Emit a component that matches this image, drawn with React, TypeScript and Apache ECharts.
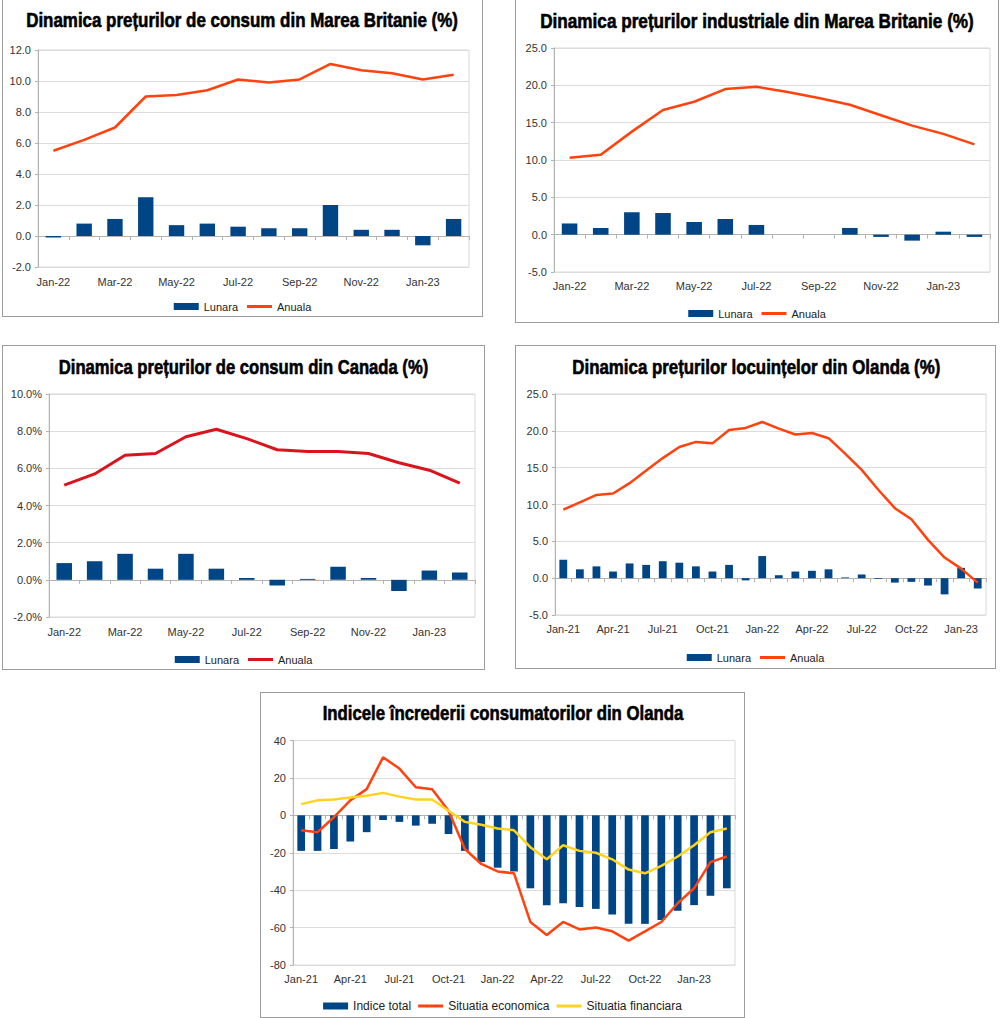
import React, { useEffect, useRef } from 'react';
import * as echarts from 'echarts';

// ---------- data ----------
const months22: string[] = ['Jan-22', 'Feb-22', 'Mar-22', 'Apr-22', 'May-22', 'Jun-22', 'Jul-22', 'Aug-22', 'Sep-22', 'Oct-22', 'Nov-22', 'Dec-22', 'Jan-23', 'Feb-23'];
const months21: string[] = ['Jan-21', 'Feb-21', 'Mar-21', 'Apr-21', 'May-21', 'Jun-21', 'Jul-21', 'Aug-21', 'Sep-21', 'Oct-21', 'Nov-21', 'Dec-21',
  'Jan-22', 'Feb-22', 'Mar-22', 'Apr-22', 'May-22', 'Jun-22', 'Jul-22', 'Aug-22', 'Sep-22', 'Oct-22', 'Nov-22', 'Dec-22', 'Jan-23', 'Feb-23'];
const months21m: string[] = [...months21, 'Mar-23'];

const ukCpiMonthly: number[] = [-0.1, 0.8, 1.1, 2.5, 0.7, 0.8, 0.6, 0.5, 0.5, 2.0, 0.4, 0.4, -0.6, 1.1];
const ukCpiAnnual: number[] = [5.5, 6.2, 7.0, 9.0, 9.1, 9.4, 10.1, 9.9, 10.1, 11.1, 10.7, 10.5, 10.1, 10.4];

const ukPpiMonthly: number[] = [1.5, 0.9, 3.0, 2.9, 1.7, 2.1, 1.3, 0, 0, 0.9, -0.3, -0.8, 0.4, -0.3];
const ukPpiAnnual: number[] = [10.3, 10.7, 13.8, 16.7, 17.8, 19.5, 19.8, 19.1, 18.3, 17.4, 16.0, 14.6, 13.5, 12.1];

const caCpiMonthly: number[] = [0.9, 1.0, 1.4, 0.6, 1.4, 0.6, 0.1, -0.3, 0.05, 0.7, 0.1, -0.6, 0.5, 0.4];
const caCpiAnnual: number[] = [5.1, 5.7, 6.7, 6.8, 7.7, 8.1, 7.6, 7.0, 6.9, 6.9, 6.8, 6.3, 5.9, 5.2];

const nlHouseMonthly: number[] = [2.5, 1.2, 1.6, 0.9, 2.0, 1.8, 2.3, 2.1, 1.6, 0.9, 1.8, -0.3, 3.0, 0.4, 0.9, 1.0, 1.2, 0.1, 0.5, -0.1, -0.6, -0.5, -1.0, -2.2, 1.4, -1.4];
const nlHouseAnnual: number[] = [9.3, 10.3, 11.3, 11.5, 12.9, 14.6, 16.3, 17.8, 18.5, 18.3, 20.1, 20.4, 21.2, 20.3, 19.5, 19.7, 19.0, 16.9, 14.7, 12.0, 9.5, 8.0, 5.2, 2.8, 1.3, -0.6];

const nlConfTotal: number[] = [-19, -19, -18, -14, -9, -2.5, -3.5, -5.5, -4.5, -10, -19, -25, -28, -30, -39, -48, -47, -49, -50, -53, -58, -58, -56, -51, -48, -43, -39];
const nlConfEconomic: number[] = [-8, -9, -1, 8, 14, 31, 25, 15, 14, 2.5, -18, -26, -30, -31, -57, -64, -57, -61, -60, -62, -67, -62, -57, -47, -39, -25, -22];
const nlConfFinancial: number[] = [6, 8, 8.5, 9.5, 10.5, 12, 10, 8.5, 8.5, 2.5, -3.5, -5, -7, -8, -17, -23.5, -16, -19, -20, -23.5, -29, -31, -27, -22, -16, -9, -7];

// ---------- style ----------
const BLUE = '#004586';
const ORANGE = '#ff420e';
const YELLOW = '#ffd320';
const RED = '#d9141c';
const LABEL_FONT = '"Liberation Sans", Arial, sans-serif';
const TITLE_FAMILY = '"Liberation Sans Narrow", "Liberation Sans", Arial, sans-serif';
const TITLE_SIZE = 20;
const LINE_ICON = 'path://M0,0L25,0L25,3L0,3Z';

type LineDef = { name: string; data: number[]; color: string; width: number };
interface Spec {
  key: string;
  box: { x: number; y: number; w: number; h: number };
  plot: { l: number; r: number; t: number; b: number };
  title: string;
  titleCx: number;
  titleCapTop: number;
  titleWidth: number;
  legendY: number;
  legendFont: number;
  legendGap: number;
  cats: string[];
  labelInterval: number;
  labelMargin: number;
  yMin: number;
  yMax: number;
  yInterval: number;
  yFmt: (v: number) => string;
  barName: string;
  barData: number[];
  barWidth: string;
  lines: LineDef[];
}

const fmt1 = (v: number) => v.toFixed(1);
const fmtPct = (v: number) => v.toFixed(1) + '%';
const fmt0 = (v: number) => String(v);

const specs: Spec[] = [
  {
    key: 'uk-cpi',
    box: { x: 2, y: -1, w: 481, h: 318 },
    plot: { l: 38, r: 469, t: 50, b: 267 },
    title: 'Dinamica prețurilor de consum din Marea Britanie (%)',
    titleCx: 242, titleCapTop: 13, titleWidth: 433,
    legendY: 308, legendFont: 11, legendGap: 9,
    cats: months22, labelInterval: 1, labelMargin: 9,
    yMin: -2, yMax: 12, yInterval: 2, yFmt: fmt1,
    barName: 'Lunara', barData: ukCpiMonthly, barWidth: '50%',
    lines: [{ name: 'Anuala', data: ukCpiAnnual, color: ORANGE, width: 2.5 }],
  },
  {
    key: 'uk-ppi',
    box: { x: 515, y: -1, w: 484, h: 324 },
    plot: { l: 554, r: 990, t: 48, b: 272 },
    title: 'Dinamica prețurilor industriale din Marea Britanie (%)',
    titleCx: 757, titleCapTop: 14, titleWidth: 435,
    legendY: 315, legendFont: 11, legendGap: 9,
    cats: months22, labelInterval: 1, labelMargin: 8,
    yMin: -5, yMax: 25, yInterval: 5, yFmt: fmt1,
    barName: 'Lunara', barData: ukPpiMonthly, barWidth: '50%',
    lines: [{ name: 'Anuala', data: ukPpiAnnual, color: ORANGE, width: 2.5 }],
  },
  {
    key: 'ca-cpi',
    box: { x: 2, y: 345, w: 483, h: 325 },
    plot: { l: 49, r: 475, t: 394, b: 617 },
    title: 'Dinamica prețurilor de consum din Canada (%)',
    titleCx: 243.5, titleCapTop: 360, titleWidth: 371,
    legendY: 661, legendFont: 11, legendGap: 9,
    cats: months22, labelInterval: 1, labelMargin: 9,
    yMin: -2, yMax: 10, yInterval: 2, yFmt: fmtPct,
    barName: 'Lunara', barData: caCpiMonthly, barWidth: '51%',
    lines: [{ name: 'Anuala', data: caCpiAnnual, color: RED, width: 3 }],
  },
  {
    key: 'nl-house',
    box: { x: 515, y: 345, w: 481, h: 324 },
    plot: { l: 555, r: 986, t: 394, b: 615 },
    title: 'Dinamica prețurilor locuințelor din Olanda (%)',
    titleCx: 756.3, titleCapTop: 360, titleWidth: 369,
    legendY: 659, legendFont: 11, legendGap: 9,
    cats: months21, labelInterval: 2, labelMargin: 8,
    yMin: -5, yMax: 25, yInterval: 5, yFmt: fmt1,
    barName: 'Lunara', barData: nlHouseMonthly, barWidth: '47%',
    lines: [{ name: 'Anuala', data: nlHouseAnnual, color: ORANGE, width: 2.5 }],
  },
  {
    key: 'nl-conf',
    box: { x: 260, y: 692, w: 485, h: 326 },
    plot: { l: 293, r: 735, t: 740.5, b: 965 },
    title: 'Indicele încrederii consumatorilor din Olanda',
    titleCx: 503, titleCapTop: 706, titleWidth: 362,
    legendY: 1007, legendFont: 12, legendGap: 7,
    cats: months21m, labelInterval: 2, labelMargin: 8,
    yMin: -80, yMax: 40, yInterval: 20, yFmt: fmt0,
    barName: 'Indice total', barData: nlConfTotal, barWidth: '47%',
    lines: [
      { name: 'Situatia economica', data: nlConfEconomic, color: ORANGE, width: 2.5 },
      { name: 'Situatia financiara', data: nlConfFinancial, color: YELLOW, width: 2.5 },
    ],
  },
];

function measureText(text: string, font: string): number {
  const c = document.createElement('canvas').getContext('2d');
  if (!c) return text.length * 10;
  c.font = font;
  return c.measureText(text).width;
}

function buildOption(s: Spec): any {
  const ox = s.box.x + 1;
  const oy = s.box.y + 1;
  const titleFont = `bold ${TITLE_SIZE}px ${TITLE_FAMILY}`;
  const measured = measureText(s.title, titleFont);
  const scaleX = Math.min(1, (s.titleWidth - 1) / measured);
  const axisColor = '#b3b3b3';
  return {
    animation: false,
    backgroundColor: '#ffffff',
    graphic: [
      {
        type: 'text',
        x: s.titleCx - ox,
        y: s.titleCapTop - oy - 3,
        scaleX,
        scaleY: 1,
        style: {
          text: s.title,
          font: titleFont,
          fill: '#000000',
          stroke: '#000000',
          lineWidth: 0.6,
          textAlign: 'center',
          align: 'center',
          textVerticalAlign: 'top',
          verticalAlign: 'top',
        },
      },
    ],
    legend: {
      left: 'center',
      top: s.legendY - oy - 7,
      padding: 0,
      itemWidth: 25,
      itemHeight: 7,
      itemGap: s.legendGap,
      textStyle: { fontSize: s.legendFont, color: '#222', fontFamily: LABEL_FONT },
      data: [{ name: s.barName, icon: 'rect' }, ...s.lines.map((l) => ({ name: l.name, icon: LINE_ICON }))],
    },
    grid: {
      left: s.plot.l - ox,
      top: s.plot.t - oy,
      width: s.plot.r - s.plot.l,
      height: s.plot.b - s.plot.t,
      show: true,
      borderColor: '#d9d9d9',
      borderWidth: 1,
      containLabel: false,
      outerBoundsMode: 'none',
    },
    xAxis: [
      {
        type: 'category',
        data: s.cats,
        position: 'bottom',
        boundaryGap: true,
        axisLine: { show: false, onZero: false },
        axisTick: { show: false },
        splitLine: { show: false },
        axisLabel: { interval: s.labelInterval, margin: s.labelMargin, fontSize: 11, color: '#333', fontFamily: LABEL_FONT },
      },
      {
        type: 'category',
        data: s.cats,
        position: 'bottom',
        boundaryGap: true,
        axisLine: { show: true, onZero: true, lineStyle: { color: axisColor, width: 1 } },
        axisTick: { show: true, interval: 0, length: 4, lineStyle: { color: axisColor } },
        splitLine: { show: false },
        axisLabel: { show: false },
      },
    ],
    yAxis: {
      type: 'value',
      min: s.yMin,
      max: s.yMax,
      interval: s.yInterval,
      axisLine: { show: true, lineStyle: { color: axisColor } },
      axisTick: { show: true, length: 3, lineStyle: { color: axisColor } },
      splitLine: { show: true, lineStyle: { color: '#dcdcdc', width: 1 } },
      axisLabel: { formatter: s.yFmt, fontSize: 11, color: '#333', margin: 7, fontFamily: LABEL_FONT },
    },
    series: [
      {
        type: 'bar',
        name: s.barName,
        data: s.barData,
        xAxisIndex: 0,
        barWidth: s.barWidth,
        itemStyle: { color: BLUE },
        z: 2,
      },
      ...s.lines.map((l, i) => ({
        type: 'line',
        name: l.name,
        data: l.data,
        xAxisIndex: 0,
        symbol: 'none',
        showSymbol: false,
        lineStyle: { color: l.color, width: l.width },
        itemStyle: { color: l.color },
        z: 3 + i,
      })),
    ],
  };
}

function ChartBox({ spec }: { spec: Spec }) {
  const ref = useRef<HTMLDivElement | null>(null);
  useEffect(() => {
    if (!ref.current) return;
    const chart = echarts.init(ref.current, undefined, { renderer: 'svg' });
    chart.setOption(buildOption(spec));
    return () => chart.dispose();
  }, [spec]);
  const { x, y, w, h } = spec.box;
  return (
    <div
      style={{
        position: 'absolute',
        left: x,
        top: y,
        width: w,
        height: h,
        boxSizing: 'border-box',
        border: '1px solid #9c9c9c',
        background: '#fff',
      }}
    >
      <div ref={ref} style={{ width: w - 2, height: h - 2 }} />
    </div>
  );
}

export default function App() {
  return (
    <div style={{ position: 'absolute', left: 0, top: 0, width: 1000, height: 1018, background: '#fff', overflow: 'hidden' }}>
      {specs.map((s) => (
        <ChartBox key={s.key} spec={s} />
      ))}
    </div>
  );
}
